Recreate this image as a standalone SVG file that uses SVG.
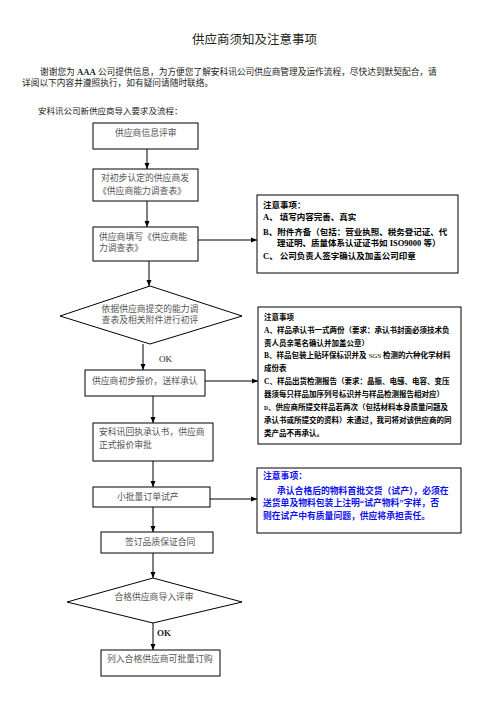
<svg xmlns="http://www.w3.org/2000/svg" width="496" height="702" viewBox="0 0 496 702">
<style>
text{font-family:"Liberation Serif","Noto Sans CJK SC",serif;}
.t{fill:#222;}
.b{fill:#555;font-size:8.8px;}
.n{fill:#000;font-weight:bold;font-size:8.5px;}
.n2{fill:#000;font-weight:bold;font-size:7.5px;}
.n3{fill:#1010ee;font-weight:bold;font-size:8.8px;}
.box{fill:#fff;stroke:#000;stroke-width:1;}
.c line{stroke:#000;stroke-width:1;marker-end:url(#arr);}
</style>
<defs>
<marker id="arr" viewBox="0 0 6 6" refX="6" refY="3" markerWidth="6" markerHeight="6" orient="auto" markerUnits="userSpaceOnUse">
<path d="M0,0.5 L6,3 L0,5.5 Z" fill="#000"/>
</marker>
</defs>
<rect width="496" height="702" fill="#fff"/>
<g id="header">
<text class="t" x="192" y="44" font-size="12.5">供应商须知及注意事项</text>
<text class="t" x="40" y="75" font-size="8.7">谢谢您为 <tspan font-weight="bold">AAA</tspan> 公司提供信息，为方便您了解安科讯公司供应商管理及运作流程，尽快达到默契配合，请</text>
<text class="t" x="22" y="86" font-size="8.7">详阅以下内容并遵照执行，如有疑问请随时联络。</text>
<text class="t" x="38" y="114" font-size="8.5">安科讯公司新供应商导入要求及流程：</text>
</g>
<g class="c" id="connectors">
<line x1="147" y1="149" x2="147" y2="169"/>
<line x1="147" y1="201" x2="147" y2="227"/>
<line x1="198" y1="240" x2="257" y2="240"/>
<line x1="149" y1="261" x2="149" y2="286"/>
<line x1="143" y1="344" x2="143" y2="370"/>
<line x1="205" y1="381" x2="258" y2="381"/>
<line x1="153" y1="396" x2="153" y2="423"/>
<line x1="153" y1="461" x2="153" y2="487"/>
<line x1="210" y1="499" x2="257" y2="499"/>
<line x1="153" y1="507" x2="153" y2="532"/>
<line x1="153" y1="553" x2="153" y2="578"/>
<line x1="153" y1="623" x2="153" y2="650"/>
<text class="t" x="159" y="362" font-size="9">OK</text>
<text class="t" x="157" y="636" font-size="9" font-weight="bold">OK</text>
</g>
<g id="n1">
<rect class="box" x="93" y="123" width="105" height="26"/>
<text class="b" x="115" y="136" font-size="8.3">供应商信息评审</text>
</g>
<g id="n2">
<rect class="box" x="93" y="169" width="105" height="32"/>
<text class="b" x="101" y="181">对初步认定的供应商发</text>
<text class="b" x="98" y="194">《供应商能力调查表》</text>
</g>
<g id="n3">
<rect class="box" x="93" y="227" width="105" height="34"/>
<text class="b" x="99" y="240">供应商填写《供应商能</text>
<text class="b" x="99" y="251">力调查表》</text>
</g>
<g id="note1">
<rect class="box" x="257" y="195" width="201" height="78"/>
<text class="n" x="263" y="208">注意事项：</text>
<text class="n" x="263" y="220">A、 填写内容完善、真实</text>
<text class="n" x="263" y="235">B、附件齐备（包括：营业执照、税务登记证、代</text>
<text class="n" x="277" y="246">理证明、质量体系认证证书如 ISO9000 等）</text>
<text class="n" x="263" y="259">C、 公司负责人签字确认及加盖公司印章</text>
</g>
<g id="d1">
<polygon class="box" points="150,286 242,316 150,344 60,316"/>
<text class="b" x="150" y="312" font-size="7.5" text-anchor="middle">依据供应商提交的能力调</text>
<text class="b" x="150" y="323" font-size="7.5" text-anchor="middle">查表及相关附件进行初评</text>
</g>
<g id="n4">
<rect class="box" x="85" y="370" width="120" height="26"/>
<text class="b" x="92" y="384">供应商初步报价，送样承认</text>
</g>
<g id="note2">
<rect class="box" x="258" y="307" width="203" height="137"/>
<text class="n2" x="264" y="320">注意事项</text>
<text class="n2" x="264" y="333">A、样品承认书一式两份（要求：承认书封面必须技术负</text>
<text class="n2" x="264" y="346">责人员亲笔名确认并加盖公章）</text>
<text class="n2" x="264" y="358">B、样品包装上贴环保标识并及 <tspan font-weight="normal" font-size="7">SGS</tspan> 检测的六种化学材料</text>
<text class="n2" x="264" y="371">成份表</text>
<text class="n2" x="264" y="384">C、样品出货检测报告（要求：晶振、电感、电容、变压</text>
<text class="n2" x="264" y="397">器须每只样品加序列号标识并与样品检测报告相对应）</text>
<text class="n2" x="264" y="410"><tspan font-size="5.5">D</tspan>、供应商所提交样品若两次（包括材料本身质量问题及</text>
<text class="n2" x="264" y="423">承认书或所提交的资料）未通过，我司将对该供应商的同</text>
<text class="n2" x="264" y="436">类产品不再承认。</text>
</g>
<g id="n5">
<rect class="box" x="93" y="423" width="120" height="38"/>
<text class="b" x="99" y="435">安科讯回执承认书，供应商</text>
<text class="b" x="99" y="448">正式报价审批</text>
</g>
<g id="n6">
<rect class="box" x="93" y="487" width="117" height="20"/>
<text class="b" x="117" y="500" font-size="8.6">小批量订单试产</text>
</g>
<g id="note3">
<rect class="box" x="257" y="468" width="204" height="65"/>
<text class="n3" x="263" y="479">注意事项：</text>
<text class="n3" x="277" y="494">承认合格后的物料首批交货（试产），必须在</text>
<text class="n3" x="263" y="506">送货单及物料包装上注明“试产物料”字样，否</text>
<text class="n3" x="263" y="519">则在试产中有质量问题，供应将承担责任。</text>
</g>
<g id="n7">
<rect class="box" x="101" y="532" width="112" height="21"/>
<text class="b" x="125" y="545" font-size="8.5">签订品质保证合同</text>
</g>
<g id="d2">
<polygon class="box" points="153,578 242,602 153,623 67,602"/>
<text class="b" x="154" y="600" font-size="8.7" text-anchor="middle">合格供应商导入评审</text>
</g>
<g id="n8">
<rect class="box" x="101" y="650" width="119" height="26"/>
<text class="b" x="107" y="662" font-size="8.6">列入合格供应商可批量订购</text>
</g>
</svg>
